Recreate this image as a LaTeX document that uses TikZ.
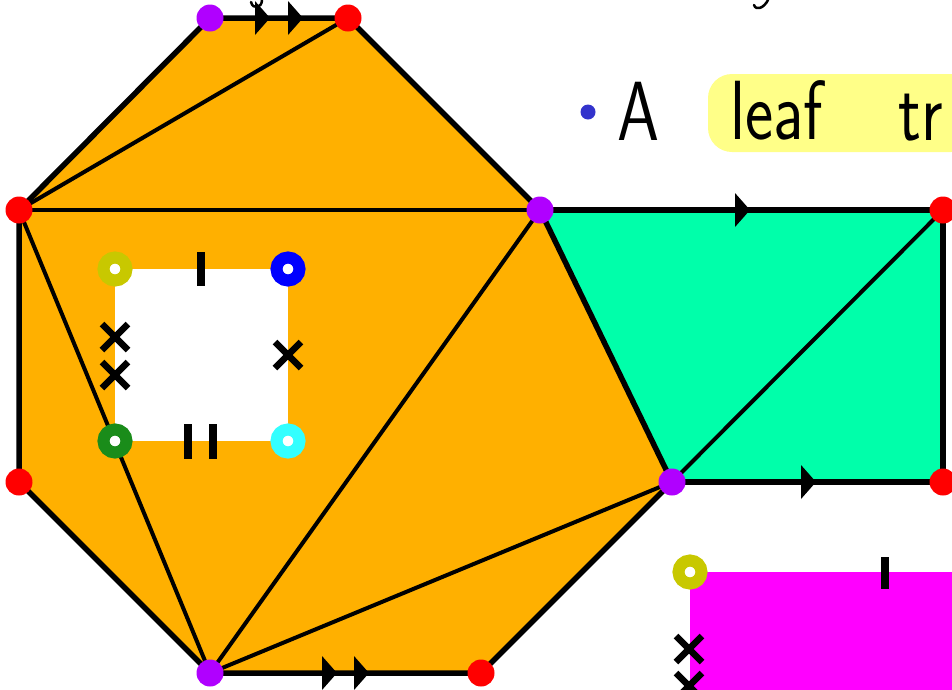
\documentclass[tikz,border=0pt]{standalone}
\usepackage{fontspec}
\definecolor{orng}{HTML}{FFB000}
\definecolor{mint}{HTML}{00FFAA}
\definecolor{purp}{HTML}{B000FF}
\definecolor{magn}{HTML}{FF00FF}
\definecolor{olive}{HTML}{C8C800}
\definecolor{dgreen}{HTML}{1A8C1A}
\definecolor{cyn}{HTML}{33FFFF}
\definecolor{hilite}{HTML}{FFFF88}
\definecolor{bullet}{HTML}{3333CC}
\tikzset{
  outer/.style={line width=5.5pt, line join=round},
  inner/.style={line width=4pt},
  vdot/.style={circle, inner sep=0pt, minimum size=27pt, fill=#1},
  ring/.style={draw=#1, line width=12pt, fill=white},
  tick/.style={line width=7.5pt},
  cross/.style={line width=6.5pt},
  hand/.style={font=\sffamily\fontsize{84}{84}\selectfont, xscale=0.8, inner sep=0pt, anchor=base west},
}
\newcommand{\arrhd}[2]{\fill (#1,#2-17) -- (#1+15,#2) -- (#1,#2+17) -- cycle;}
\newcommand{\crossat}[2]{\draw[cross] (#1-13,#2-13) -- (#1+13,#2+13) (#1-13,#2+13) -- (#1+13,#2-13);}
\begin{document}
\begin{tikzpicture}[x=1pt,y=-1pt]
\useasboundingbox (0,0) rectangle (952,689);
% vertices
\coordinate (T1) at (210,18);
\coordinate (T2) at (348,18);
\coordinate (R1) at (540,210);
\coordinate (R2) at (672,482);
\coordinate (B2) at (481,673);
\coordinate (B1) at (210,673);
\coordinate (L2) at (19,482);
\coordinate (L1) at (19,210);
\coordinate (G1) at (943,210);
\coordinate (G2) at (943,482);
% fills
\fill[orng] (T1) -- (T2) -- (R1) -- (R2) -- (B2) -- (B1) -- (L2) -- (L1) -- cycle;
\fill[mint] (R1) -- (G1) -- (G2) -- (R2) -- cycle;
\fill[magn] (690,572) rectangle (960,700);
% inner diagonals
\draw[inner] (L1) -- (T2);
\draw[inner] (L1) -- (R1);
\draw[inner] (L1) -- (B1);
\draw[inner] (B1) -- (R1);
\draw[inner] (B1) -- (R2);
\draw[inner] (R2) -- (G1);
% outer edges
\draw[outer] (T1) -- (T2) -- (R1) -- (R2) -- (B2) -- (B1) -- (L2) -- (L1) -- cycle;
\draw[outer] (R1) -- (G1) -- (G2) -- (R2);
% arrowheads
\arrhd{255}{18}\arrhd{288}{18}
\arrhd{322}{673}\arrhd{354}{673}
\arrhd{735}{210}
\arrhd{801}{482}
% square hole
\fill[white] (115,269) rectangle (288,441);
\draw[tick] (201,252) -- (201,286);
\draw[tick] (188,424) -- (188,459);
\draw[tick] (213,424) -- (213,459);
\crossat{115}{337}\crossat{115}{375}
\crossat{288}{355}
\draw[ring=olive] (115,269) circle (11.5);
\draw[ring=blue] (288,269) circle (11.5);
\draw[ring=dgreen] (115,441) circle (11.5);
\draw[ring=cyn] (288,441) circle (11.5);
% magenta region marks
\draw[tick] (885,557) -- (885,589);
\crossat{689}{649}\crossat{689}{686}
\draw[ring=olive] (690,572) circle (11.5);
% vertex dots
\node[vdot=purp] (nT1) at (T1) {};
\node[vdot=red] (nT2) at (T2) {};
\node[vdot=purp] (nR1) at (R1) {};
\node[vdot=purp] (nR2) at (R2) {};
\node[vdot=red] (nB2) at (B2) {};
\node[vdot=purp] (nB1) at (B1) {};
\node[vdot=red] (nL2) at (L2) {};
\node[vdot=red] (nL1) at (L1) {};
\node[vdot=red] (nG1) at (G1) {};
\node[vdot=red] (nG2) at (G2) {};
% text
\fill[hilite, rounded corners=24pt] (708,74) rectangle (975,152);
\fill[bullet] (588,112) circle (7.5);
\node[hand] (tA) at (617,140) {A};
\node[hand] (tleaf) at (730,139) {leaf};
\node[hand] (ttr) at (898,140) {tr};
% cut-off strokes at top
\draw[line width=2.5pt, line cap=round] (262,0) .. controls (262,8) and (253,10) .. (251,2);
\draw[line width=2.5pt, line cap=round] (768,0) .. controls (764,8) and (756,11) .. (754,5);
\end{tikzpicture}
\end{document}
